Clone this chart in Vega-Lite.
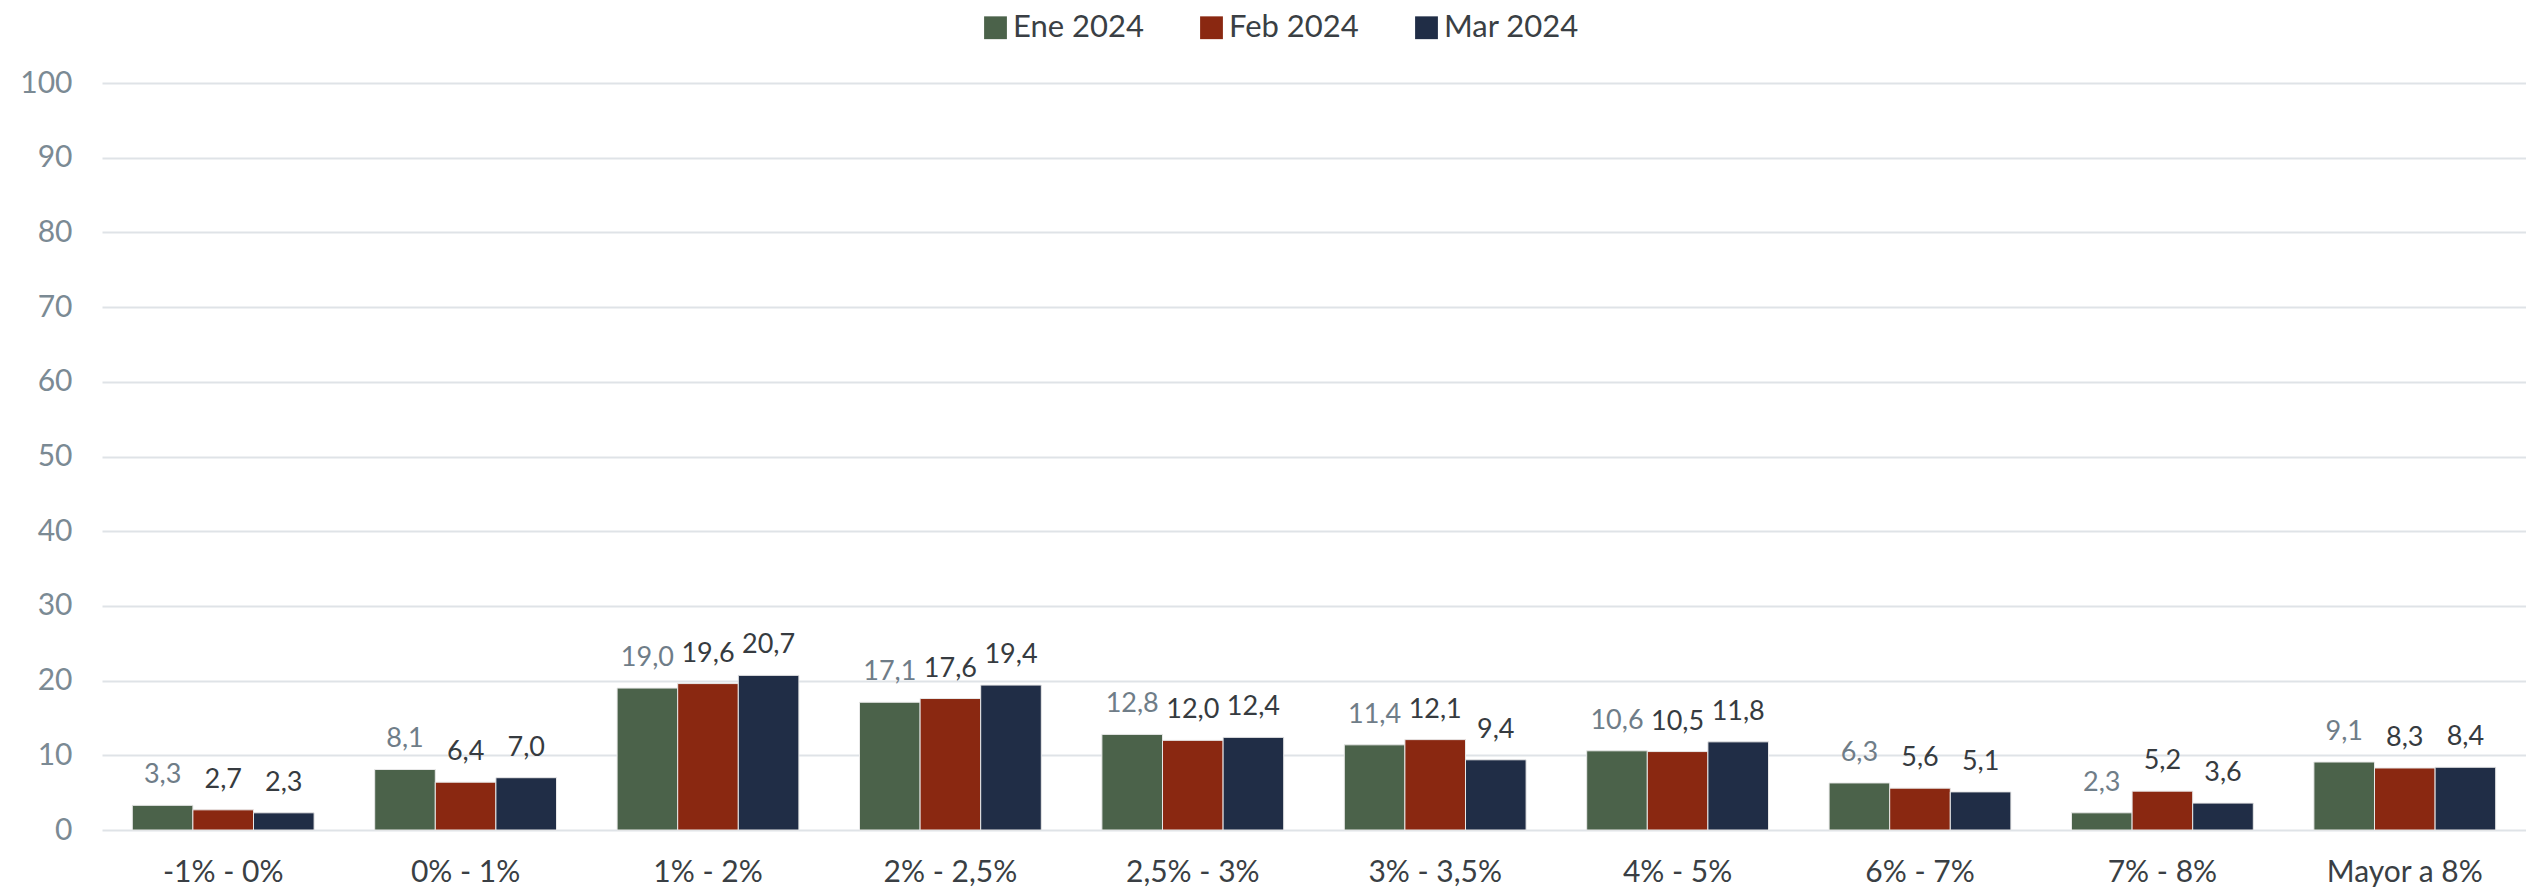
{
  "$schema": "https://vega.github.io/schema/vega-lite/v6.json",
  "autosize": "none",
  "width": 2424,
  "height": 747,
  "padding": {"left": 102, "top": 83, "right": 0, "bottom": 59},
  "background": "white",
  "config": {
    "font": "Lato",
    "view": {"stroke": null},
    "locale": {"number": {"decimal": ",", "thousands": ".", "grouping": [3], "currency": ["", " €"]}}
  },
  "data": {
    "values": [
      {"rango": "-1% - 0%", "mes": "Ene 2024", "valor": 3.3},
      {"rango": "-1% - 0%", "mes": "Feb 2024", "valor": 2.7},
      {"rango": "-1% - 0%", "mes": "Mar 2024", "valor": 2.3},
      {"rango": "0% - 1%", "mes": "Ene 2024", "valor": 8.1},
      {"rango": "0% - 1%", "mes": "Feb 2024", "valor": 6.4},
      {"rango": "0% - 1%", "mes": "Mar 2024", "valor": 7.0},
      {"rango": "1% - 2%", "mes": "Ene 2024", "valor": 19.0},
      {"rango": "1% - 2%", "mes": "Feb 2024", "valor": 19.6},
      {"rango": "1% - 2%", "mes": "Mar 2024", "valor": 20.7},
      {"rango": "2% - 2,5%", "mes": "Ene 2024", "valor": 17.1},
      {"rango": "2% - 2,5%", "mes": "Feb 2024", "valor": 17.6},
      {"rango": "2% - 2,5%", "mes": "Mar 2024", "valor": 19.4},
      {"rango": "2,5% - 3%", "mes": "Ene 2024", "valor": 12.8},
      {"rango": "2,5% - 3%", "mes": "Feb 2024", "valor": 12.0},
      {"rango": "2,5% - 3%", "mes": "Mar 2024", "valor": 12.4},
      {"rango": "3% - 3,5%", "mes": "Ene 2024", "valor": 11.4},
      {"rango": "3% - 3,5%", "mes": "Feb 2024", "valor": 12.1},
      {"rango": "3% - 3,5%", "mes": "Mar 2024", "valor": 9.4},
      {"rango": "4% - 5%", "mes": "Ene 2024", "valor": 10.6},
      {"rango": "4% - 5%", "mes": "Feb 2024", "valor": 10.5},
      {"rango": "4% - 5%", "mes": "Mar 2024", "valor": 11.8},
      {"rango": "6% - 7%", "mes": "Ene 2024", "valor": 6.3},
      {"rango": "6% - 7%", "mes": "Feb 2024", "valor": 5.6},
      {"rango": "6% - 7%", "mes": "Mar 2024", "valor": 5.1},
      {"rango": "7% - 8%", "mes": "Ene 2024", "valor": 2.3},
      {"rango": "7% - 8%", "mes": "Feb 2024", "valor": 5.2},
      {"rango": "7% - 8%", "mes": "Mar 2024", "valor": 3.6},
      {"rango": "Mayor a 8%", "mes": "Ene 2024", "valor": 9.1},
      {"rango": "Mayor a 8%", "mes": "Feb 2024", "valor": 8.3},
      {"rango": "Mayor a 8%", "mes": "Mar 2024", "valor": 8.4}
    ]
  },
  "encoding": {
    "x": {
      "field": "rango", "type": "nominal", "sort": null,
      "scale": {"paddingInner": 0.25, "paddingOuter": 0.125},
      "axis": {"title": null, "labelAngle": 0, "labelFontSize": 30, "labelColor": "#3a3f44", "labelPadding": 27, "ticks": false, "domain": false, "grid": false}
    },
    "xOffset": {"field": "mes", "type": "nominal", "sort": null},
    "y": {
      "field": "valor", "type": "quantitative",
      "scale": {"domain": [0, 100], "nice": false},
      "axis": {"title": null, "values": [0,10,20,30,40,50,60,70,80,90,100], "labelFontSize": 30, "labelColor": "#7b8a94", "labelPadding": 30, "ticks": false, "domain": false, "gridColor": "#dfe3e7", "gridWidth": 2}
    }
  },
  "layer": [
    {
      "mark": {"type": "bar", "stroke": "#e8e8e8", "strokeWidth": 1},
      "encoding": {
        "color": {
          "field": "mes", "type": "nominal", "sort": null,
          "scale": {"domain": ["Ene 2024", "Feb 2024", "Mar 2024"], "range": ["#4b624a", "#8a2811", "#202d46"]},
          "legend": {"title": null, "orient": "none", "legendX": 878, "legendY": -71, "direction": "horizontal", "labelFontSize": 31, "labelColor": "#3a3f44", "symbolType": "square", "symbolSize": 520, "symbolStrokeWidth": 0, "labelOffset": 2, "columnPadding": 52}
        }
      }
    },
    {
      "mark": {"type": "text", "baseline": "bottom", "dy": -16, "fontSize": 27},
      "encoding": {
        "text": {"field": "valor", "type": "quantitative", "format": ".1f"},
        "color": {"condition": {"test": "datum.mes === 'Ene 2024'", "value": "#6f7d88"}, "value": "#363b40"}
      }
    }
  ]
}
